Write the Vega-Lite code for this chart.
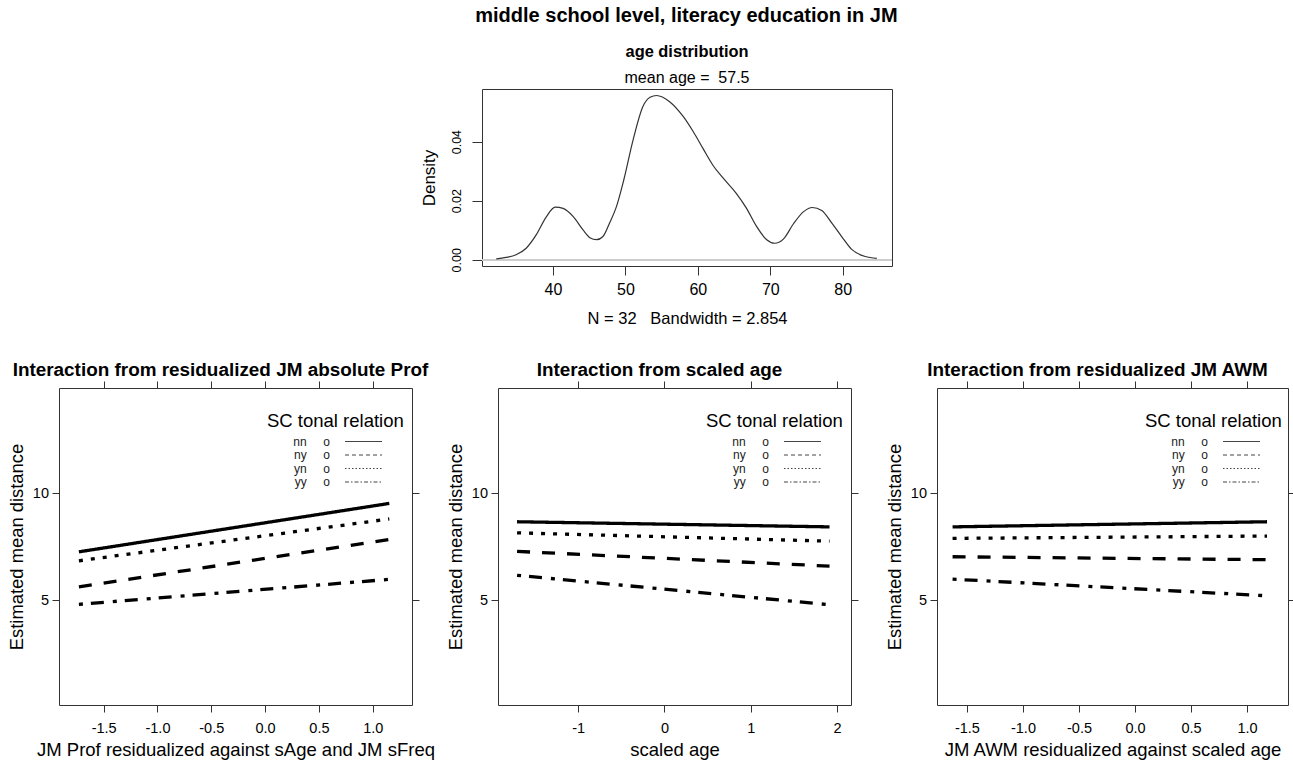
{
  "$schema": "https://vega.github.io/schema/vega-lite/v6.json",
  "background": "white",
  "padding": {"left": 6, "top": 6, "right": 0, "bottom": 0},
  "title": {"text": "middle school level, literacy education in JM", "fontSize": 20, "fontWeight": "bold", "anchor": "middle", "dx": 35, "offset": 17, "color": "black"},
  "bounds": "flush",
  "spacing": 299,
  "config": {
    "font": "Liberation Sans",
    "view": {"stroke": "#333", "strokeWidth": 1},
    "axis": {"domain": false, "grid": false, "tickColor": "#333", "labelColor": "black", "titleColor": "black", "labelFont": "Liberation Sans", "titleFont": "Liberation Sans", "titleFontWeight": "normal", "labelOverlap": false, "labelFlush": false},
    "title": {"color": "black", "font": "Liberation Sans"},
    "legend": {"labelFont": "Liberation Sans", "titleFont": "Liberation Sans", "orient": "none", "legendX": 208, "legendY": 24, "padding": 0, "titleFontSize": 18.5, "titleFontWeight": "normal", "titleColor": "black", "titlePadding": 5, "labelFontSize": 12, "labelColor": "#222", "labelAlign": "right", "labelOffset": 51, "rowPadding": 1.5, "symbolType": "M24,0H36.33", "symbolSize": 36, "symbolStrokeWidth": 1, "symbolStrokeColor": "#444", "symbolOpacity": 1}
  },
  "vconcat": [
    {
      "bounds": "flush",
      "spacing": 20,
      "hconcat": [
        {"width": 403, "height": 1, "view": {"stroke": null}, "data": {"values": [{"a": 0}]}, "mark": {"type": "point", "opacity": 0}, "encoding": {}},
        {
          "width": 410, "height": 177,
          "title": {"text": "age distribution", "subtitle": "mean age =\u00a0\u00a057.5", "fontSize": 16.4, "fontWeight": "bold", "subtitleFontSize": 16, "subtitleFont": "Liberation Sans", "subtitleColor": "black", "anchor": "middle", "offset": 3, "subtitlePadding": 10},
          "data": {"values": [
            {"age": 32.17, "density": 0.0003},
            {"age": 33.5, "density": 0.0008},
            {"age": 34.9, "density": 0.0017},
            {"age": 36.3, "density": 0.0039},
            {"age": 37.7, "density": 0.0085},
            {"age": 39.1, "density": 0.0146},
            {"age": 40.3, "density": 0.0178},
            {"age": 41.4, "density": 0.0174},
            {"age": 42.8, "density": 0.0146},
            {"age": 44.15, "density": 0.0101},
            {"age": 45.1, "density": 0.0075},
            {"age": 46.0, "density": 0.0068},
            {"age": 46.9, "density": 0.0079},
            {"age": 47.8, "density": 0.0124},
            {"age": 48.76, "density": 0.018},
            {"age": 49.77, "density": 0.027},
            {"age": 51.06, "density": 0.0406},
            {"age": 52.4, "density": 0.0518},
            {"age": 53.4, "density": 0.055},
            {"age": 54.3, "density": 0.0556},
            {"age": 56.1, "density": 0.0535},
            {"age": 57.97, "density": 0.0485},
            {"age": 59.35, "density": 0.0434},
            {"age": 60.7, "density": 0.0377},
            {"age": 62.1, "density": 0.0319},
            {"age": 63.5, "density": 0.0276},
            {"age": 65.3, "density": 0.0225},
            {"age": 66.7, "density": 0.0175},
            {"age": 68.1, "density": 0.0113},
            {"age": 69.5, "density": 0.0068},
            {"age": 70.6, "density": 0.0056},
            {"age": 71.8, "density": 0.007},
            {"age": 73.2, "density": 0.0122},
            {"age": 74.6, "density": 0.0163},
            {"age": 75.8, "density": 0.0177},
            {"age": 77.1, "density": 0.0167},
            {"age": 78.5, "density": 0.0124},
            {"age": 79.9, "density": 0.0077},
            {"age": 81.2, "density": 0.0036},
            {"age": 83.1, "density": 0.0011},
            {"age": 84.7, "density": 0.0005}
          ]},
          "layer": [
            {"mark": {"type": "rule", "color": "#cccccc", "strokeWidth": 1}, "encoding": {"y": {"datum": 0, "type": "quantitative"}}},
            {"mark": {"type": "line", "color": "#333", "strokeWidth": 1.2, "interpolate": "monotone"},
             "encoding": {
               "x": {"field": "age", "type": "quantitative", "scale": {"domain": [30.2, 86.8], "nice": false, "zero": false},
                     "axis": {"values": [40, 50, 60, 70, 80], "tickSize": 9, "labelFontSize": 16, "labelPadding": 6, "title": "N = 32\u00a0\u00a0 Bandwidth = 2.854", "titleFontSize": 16.5, "titlePadding": 13}},
               "y": {"field": "density", "type": "quantitative", "scale": {"domain": [-0.0021, 0.0578], "nice": false, "zero": false},
                     "axis": {"values": [0, 0.01, 0.02, 0.03, 0.04, 0.05], "tickSize": 10, "labelAngle": -90, "labelFontSize": 12.5, "labelPadding": 9, "labelExpr": "(abs(datum.value) < 1e-9 || abs(datum.value - 0.02) < 1e-9 || abs(datum.value - 0.04) < 1e-9) ? format(datum.value, '.2f') : ''", "title": "Density", "titleFontSize": 17, "titlePadding": 12}}
             }}
          ]
        }
      ]
    },
    {
      "bounds": "flush",
      "spacing": 86,
      "resolve": {"scale": {"strokeDash": "independent"}, "legend": {"strokeDash": "independent"}},
      "hconcat": [
        {
          "width": 353, "height": 317,
          "title": {"text": "Interaction from residualized JM absolute Prof", "fontSize": 18.9, "fontWeight": "bold", "dx": -15, "offset": 1},
          "data": {"values": [
            {"x": -1.73, "y": 7.26, "rel": "nn"}, {"x": 1.154, "y": 9.53, "rel": "nn"},
            {"x": -1.73, "y": 5.62, "rel": "ny"}, {"x": 1.154, "y": 7.84, "rel": "ny"},
            {"x": -1.73, "y": 6.84, "rel": "yn"}, {"x": 1.154, "y": 8.80, "rel": "yn"},
            {"x": -1.73, "y": 4.80, "rel": "yy"}, {"x": 1.154, "y": 5.97, "rel": "yy"}
          ]},
          "resolve": {"axis": {"x": "independent", "y": "independent"}, "scale": {"strokeDash": "independent"}, "legend": {"strokeDash": "independent"}},
          "layer": [
            {"mark": {"type": "line", "color": "black", "strokeWidth": 3.3, "strokeCap": "butt"},
             "encoding": {
               "x": {"field": "x", "type": "quantitative", "scale": {"domain": [-1.915, 1.365], "nice": false, "zero": false},
                     "axis": {"orient": "bottom", "values": [-1.5, -1, -0.5, 0, 0.5, 1], "labelExpr": "(datum.value < 0 ? '-' : '') + format(abs(datum.value), '.1f')", "tickSize": 7, "labelFontSize": 14.5, "labelPadding": 9, "title": "JM Prof residualized against sAge and JM sFreq", "titleFontSize": 18.5, "titlePadding": 6}},
               "y": {"field": "y", "type": "quantitative", "scale": {"domain": [0.08, 14.94], "nice": false, "zero": false},
                     "axis": {"orient": "left", "values": [5, 10], "tickSize": 7, "labelFontSize": 14.5, "labelPadding": 3.5, "title": "Estimated mean distance", "titleFontSize": 18.4, "titlePadding": 6}},
               "strokeDash": {"field": "rel", "type": "nominal", "scale": {"domain": ["nn", "ny", "yn", "yy"], "range": [[1, 0], [13, 12], [4, 8], [4, 8, 13, 9]]}, "legend": null}
             }},
            {"mark": {"type": "line", "opacity": 0, "color": "#444", "strokeWidth": 1},
             "encoding": {
               "x": {"field": "x", "type": "quantitative", "axis": {"orient": "top", "values": [-1.5, -1, -0.5, 0, 0.5, 1], "tickSize": 7, "labels": false, "title": null}},
               "y": {"field": "y", "type": "quantitative", "axis": {"orient": "right", "values": [5, 10], "tickSize": 7, "labels": false, "title": null}},
               "strokeDash": {"field": "rel", "type": "nominal", "scale": {"domain": ["nn", "ny", "yn", "yy"], "range": [[1, 0], [4, 3], [1.5, 2], [4, 2, 1.5, 2]]},
                     "legend": {"title": "SC tonal relation", "labelExpr": "datum.label + '\u00a0\u00a0\u00a0\u00a0\u00a0o'"}}
             }}
          ]
        },
        {
          "width": 353, "height": 317,
          "title": {"text": "Interaction from scaled age", "fontSize": 18.9, "fontWeight": "bold", "dx": -15, "offset": 1},
          "data": {"values": [
            {"x": -1.708, "y": 8.67, "rel": "nn"}, {"x": 1.914, "y": 8.43, "rel": "nn"},
            {"x": -1.708, "y": 7.28, "rel": "ny"}, {"x": 1.914, "y": 6.59, "rel": "ny"},
            {"x": -1.708, "y": 8.15, "rel": "yn"}, {"x": 1.914, "y": 7.76, "rel": "yn"},
            {"x": -1.708, "y": 6.16, "rel": "yy"}, {"x": 1.914, "y": 4.78, "rel": "yy"}
          ]},
          "resolve": {"axis": {"x": "independent", "y": "independent"}, "scale": {"strokeDash": "independent"}, "legend": {"strokeDash": "independent"}},
          "layer": [
            {"mark": {"type": "line", "color": "black", "strokeWidth": 3.3, "strokeCap": "butt"},
             "encoding": {
               "x": {"field": "x", "type": "quantitative", "scale": {"domain": [-1.929, 2.163], "nice": false, "zero": false},
                     "axis": {"orient": "bottom", "values": [-1, 0, 1, 2], "labelExpr": "(datum.value < 0 ? '-' : '') + format(abs(datum.value), 'd')", "tickSize": 7, "labelFontSize": 14.5, "labelPadding": 9, "title": "scaled age", "titleFontSize": 18.5, "titlePadding": 6}},
               "y": {"field": "y", "type": "quantitative", "scale": {"domain": [0.08, 14.94], "nice": false, "zero": false},
                     "axis": {"orient": "left", "values": [5, 10], "tickSize": 7, "labelFontSize": 14.5, "labelPadding": 3.5, "title": "Estimated mean distance", "titleFontSize": 18.4, "titlePadding": 6}},
               "strokeDash": {"field": "rel", "type": "nominal", "scale": {"domain": ["nn", "ny", "yn", "yy"], "range": [[1, 0], [13, 12], [4, 8], [4, 8, 13, 9]]}, "legend": null}
             }},
            {"mark": {"type": "line", "opacity": 0, "color": "#444", "strokeWidth": 1},
             "encoding": {
               "x": {"field": "x", "type": "quantitative", "axis": {"orient": "top", "values": [-1, 0, 1, 2], "tickSize": 7, "labels": false, "title": null}},
               "y": {"field": "y", "type": "quantitative", "axis": {"orient": "right", "values": [5, 10], "tickSize": 7, "labels": false, "title": null}},
               "strokeDash": {"field": "rel", "type": "nominal", "scale": {"domain": ["nn", "ny", "yn", "yy"], "range": [[1, 0], [4, 3], [1.5, 2], [4, 2, 1.5, 2]]},
                     "legend": {"title": "SC tonal relation", "labelExpr": "datum.label + '\u00a0\u00a0\u00a0\u00a0\u00a0o'"}}
             }}
          ]
        },
        {
          "width": 351, "height": 317,
          "title": {"text": "Interaction from residualized JM AWM", "fontSize": 18.9, "fontWeight": "bold", "dx": -15, "offset": 1},
          "data": {"values": [
            {"x": -1.628, "y": 8.43, "rel": "nn"}, {"x": 1.178, "y": 8.67, "rel": "nn"},
            {"x": -1.628, "y": 7.03, "rel": "ny"}, {"x": 1.178, "y": 6.89, "rel": "ny"},
            {"x": -1.628, "y": 7.89, "rel": "yn"}, {"x": 1.178, "y": 8.00, "rel": "yn"},
            {"x": -1.628, "y": 5.98, "rel": "yy"}, {"x": 1.178, "y": 5.20, "rel": "yy"}
          ]},
          "resolve": {"axis": {"x": "independent", "y": "independent"}, "scale": {"strokeDash": "independent"}, "legend": {"strokeDash": "independent"}},
          "layer": [
            {"mark": {"type": "line", "color": "black", "strokeWidth": 3.3, "strokeCap": "butt"},
             "encoding": {
               "x": {"field": "x", "type": "quantitative", "scale": {"domain": [-1.767, 1.365], "nice": false, "zero": false},
                     "axis": {"orient": "bottom", "values": [-1.5, -1, -0.5, 0, 0.5, 1], "labelExpr": "(datum.value < 0 ? '-' : '') + format(abs(datum.value), '.1f')", "tickSize": 7, "labelFontSize": 14.5, "labelPadding": 9, "title": "JM AWM residualized against scaled age", "titleFontSize": 18.5, "titlePadding": 6}},
               "y": {"field": "y", "type": "quantitative", "scale": {"domain": [0.08, 14.94], "nice": false, "zero": false},
                     "axis": {"orient": "left", "values": [5, 10], "tickSize": 7, "labelFontSize": 14.5, "labelPadding": 3.5, "title": "Estimated mean distance", "titleFontSize": 18.4, "titlePadding": 6}},
               "strokeDash": {"field": "rel", "type": "nominal", "scale": {"domain": ["nn", "ny", "yn", "yy"], "range": [[1, 0], [13, 12], [4, 8], [4, 8, 13, 9]]}, "legend": null}
             }},
            {"mark": {"type": "line", "opacity": 0, "color": "#444", "strokeWidth": 1},
             "encoding": {
               "x": {"field": "x", "type": "quantitative", "axis": {"orient": "top", "values": [-1.5, -1, -0.5, 0, 0.5, 1], "tickSize": 7, "labels": false, "title": null}},
               "y": {"field": "y", "type": "quantitative", "axis": {"orient": "right", "values": [5, 10], "tickSize": 7, "labels": false, "title": null}},
               "strokeDash": {"field": "rel", "type": "nominal", "scale": {"domain": ["nn", "ny", "yn", "yy"], "range": [[1, 0], [4, 3], [1.5, 2], [4, 2, 1.5, 2]]},
                     "legend": {"title": "SC tonal relation", "labelExpr": "datum.label + '\u00a0\u00a0\u00a0\u00a0\u00a0o'"}}
             }}
          ]
        }
      ]
    }
  ]
}
